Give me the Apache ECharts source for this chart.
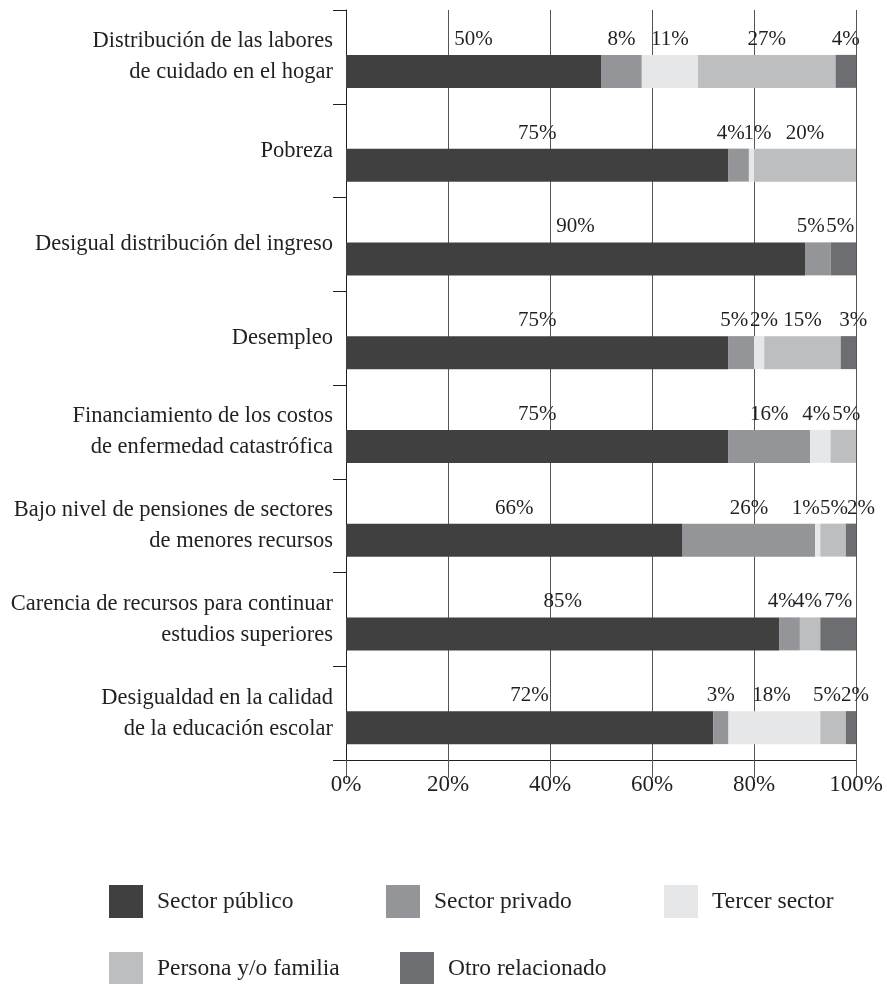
<!DOCTYPE html>
<html><head><meta charset="utf-8">
<script src="https://cdn.jsdelivr.net/npm/echarts@6/dist/echarts.min.js"></script>
<style>html,body{margin:0;padding:0;background:#fff}#c{width:887px;height:984px}</style>
</head><body><div id="c"></div>
<script>
const categories = [
  'Distribución de las labores\nde cuidado en el hogar',
  'Pobreza',
  'Desigual distribución del ingreso',
  'Desempleo',
  'Financiamiento de los costos\nde enfermedad catastrófica',
  'Bajo nivel de pensiones de sectores\nde menores recursos',
  'Carencia de recursos para continuar\nestudios superiores',
  'Desigualdad en la calidad\nde la educación escolar'
];
const seriesNames = ['Sector público', 'Sector privado', 'Tercer sector', 'Persona y/o familia', 'Otro relacionado'];
const sectorPublico   = [50, 75, 90, 75, 75, 66, 85, 72];
const sectorPrivado   = [8, 4, 5, 5, 16, 26, 4, 3];
const tercerSector    = [11, 1, 0, 2, 4, 1, 0, 18];
const personaFamilia  = [27, 20, 0, 15, 5, 5, 4, 5];
const otroRelacionado = [4, 0, 5, 3, 0, 2, 7, 2];
const xTickMin = 0, xTickMax = 100, xTickStep = 20;

const seriesData = [sectorPublico, sectorPrivado, tercerSector, personaFamilia, otroRelacionado];
const colors = ['#404041', '#939598', '#e6e7e8', '#bcbec0', '#6d6e71'];
const FONT = '"Liberation Serif", "DejaVu Serif", serif';
const TXT = '#231f20';

// horizontal label nudges (px) to keep adjacent small labels apart, per series per category
const labelNudge = [
  [0, 0, 0, 0, 0, 0, 0, 0],
  [0, -8, -7, -7, 0, 0, -8, 0],
  [0, 6, 0, 5, -4, -12, 0, -3],
  [0, 0, 0, 0, 3, 1, -2, -6],
  [0, 0, -3, 5, 0, 10, 0, 4]
];

const legendPos = [[109, 885], [386, 885], [664, 885], [109, 952], [400, 952]];

const chart = echarts.init(document.getElementById('c'), null, {renderer: 'canvas'});
chart.setOption({
  animation: false,
  color: colors,
  textStyle: {fontFamily: FONT, color: TXT},
  grid: [
    {left: 346, right: 31, top: 10, bottom: 224, containLabel: false},
    {left: 346, right: 31, top: 24.5, bottom: 209.5, containLabel: false}
  ],
  xAxis: [
    {
      gridIndex: 0, type: 'value', min: xTickMin, max: xTickMax, interval: xTickStep,
      axisLine: {show: true, lineStyle: {color: TXT, width: 1}},
      axisTick: {show: true, length: 18, lineStyle: {color: '#555', width: 1}},
      splitLine: {show: true, lineStyle: {color: '#555', width: 1}},
      axisLabel: {formatter: '{value}%', fontSize: 23, color: TXT, fontFamily: FONT, margin: 13}
    },
    {gridIndex: 1, type: 'value', min: xTickMin, max: xTickMax, show: false}
  ],
  yAxis: [
    {
      gridIndex: 0, type: 'category', inverse: true, data: categories,
      axisLine: {show: true, lineStyle: {color: TXT, width: 1}},
      axisTick: {show: true, length: 13, alignWithLabel: false, lineStyle: {color: TXT, width: 1}},
      splitLine: {show: false},
      axisLabel: {fontSize: 22.5, lineHeight: 31, color: TXT, fontFamily: FONT, margin: 13, align: 'right'}
    },
    {gridIndex: 1, type: 'category', inverse: true, data: categories, show: false}
  ],
  legend: seriesNames.map((name, i) => ({
    data: [name], left: legendPos[i][0], top: legendPos[i][1], orient: 'horizontal',
    itemWidth: 34, itemHeight: 33, icon: 'rect', padding: 0, selectedMode: false,
    textStyle: {fontSize: 23.5, color: TXT, fontFamily: FONT, padding: [0, 0, 0, 9]}
  })),
  series: seriesNames.map((name, i) => ({
    name: name, type: 'bar', stack: 'total', xAxisIndex: 1, yAxisIndex: 1,
    barWidth: 33,
    data: seriesData[i].map((v, j) => ({value: v, label: {offset: [labelNudge[i][j], 0]}})),
    itemStyle: {color: colors[i]},
    label: {
      show: true, position: 'top', distance: 5, fontSize: 21, color: TXT, fontFamily: FONT,
      formatter: p => p.value ? p.value + '%' : ''
    }
  }))
});
</script>
</body></html>
